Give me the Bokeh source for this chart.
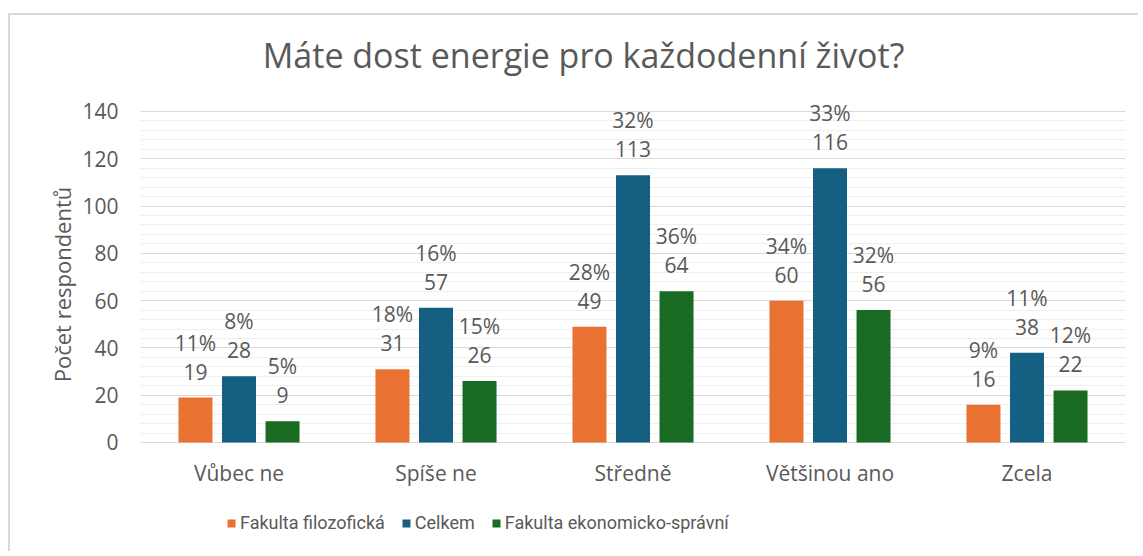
from bokeh.plotting import figure
from bokeh.models import ColumnDataSource, FactorRange, LabelSet, Label, Legend, LegendItem, FixedTicker, Range1d
from bokeh.transform import dodge
from bokeh.core.properties import value
from bokeh.embed import file_html
from bokeh.resources import INLINE

categories = ["Vůbec ne", "Spíše ne", "Středně", "Většinou ano", "Zcela"]
series_names = ["Fakulta filozofická", "Celkem", "Fakulta ekonomicko-správní"]
ff_values = [19, 31, 49, 60, 16]
ff_pct = ["11%", "18%", "28%", "34%", "9%"]
celkem_values = [28, 57, 113, 116, 38]
celkem_pct = ["8%", "16%", "32%", "33%", "11%"]
fes_values = [9, 26, 64, 56, 22]
fes_pct = ["5%", "15%", "36%", "32%", "12%"]
y_ticks = [0, 20, 40, 60, 80, 100, 120, 140]
title_text = "Máte dost energie pro každodenní život?"
y_label = "Počet respondentů"

colors = ["#E97132", "#156082", "#196B24"]
FONT = "Open Sans"
TXT = "#595959"

src = ColumnDataSource(dict(
    cat=categories,
    ff=ff_values, ffl=[str(v) for v in ff_values], ffp=ff_pct,
    ce=celkem_values, cel=[str(v) for v in celkem_values], cep=celkem_pct,
    fe=fes_values, fel=[str(v) for v in fes_values], fep=fes_pct,
))

p = figure(x_range=FactorRange(*categories, range_padding=0), y_range=Range1d(-46.95, 180.6),
           width=1130, height=538, output_backend="svg", toolbar_location=None,
           min_border_left=130, min_border_right=15, min_border_top=0, min_border_bottom=0)
p.outline_line_color = None
p.styles = {"margin-left": "8px", "margin-top": "13px",
            "border-left": "2px solid #d9d9d9", "border-top": "2px solid #d9d9d9"}

offsets = [-0.221, 0.0, 0.221]
keys = [("ff", "ffl", "ffp"), ("ce", "cel", "cep"), ("fe", "fel", "fep")]
renderers = []
for off, (k, kl, kp), c in zip(offsets, keys, colors):
    r = p.vbar(x=dodge("cat", off, range=p.x_range), top=k, width=0.1726, source=src,
               fill_color=c, line_color=None)
    renderers.append(r)
    for col, yo in ((kl, 18), (kp, 47)):
        p.add_layout(LabelSet(x=dodge("cat", off, range=p.x_range), y=k, text=col, source=src,
                              y_offset=yo, text_align="center", text_baseline="alphabetic",
                              text_font=value(FONT), text_font_size="21px", text_color=TXT))

# category labels under the baseline
p.text(x="cat", y=-12.7, text="cat", source=src, text_align="center", text_baseline="alphabetic",
       text_font=value(FONT), text_font_size="21px", text_color=TXT)

p.yaxis.ticker = FixedTicker(ticks=y_ticks, minor_ticks=list(range(0, 141, 4)))
p.yaxis.bounds = (0, 140)
p.ygrid.grid_line_color = "#d9d9d9"
p.ygrid.minor_grid_line_color = "#efefef"
p.xgrid.grid_line_color = None
p.xaxis.visible = False
p.yaxis.axis_line_color = None
p.yaxis.major_tick_line_color = None
p.yaxis.minor_tick_line_color = None
p.yaxis.major_label_text_font = FONT
p.yaxis.major_label_text_font_size = "21px"
p.yaxis.major_label_text_color = TXT
p.yaxis.major_label_standoff = 16
p.yaxis.axis_label = y_label
p.yaxis.axis_label_text_font = FONT
p.yaxis.axis_label_text_font_size = "22px"
p.yaxis.axis_label_text_font_style = "normal"
p.yaxis.axis_label_text_color = TXT
p.yaxis.axis_label_standoff = 2

p.add_layout(Label(x=2.249, y=163.9, text=title_text, text_align="center", text_baseline="alphabetic",
                   text_font=FONT, text_font_size="34px", text_color=TXT))

legend = Legend(items=[LegendItem(label=n, renderers=[r]) for n, r in zip(series_names, renderers)],
                orientation="horizontal", location=(86, 20), border_line_color=None,
                background_fill_alpha=0, label_text_font="Roboto", label_text_font_size="18px",
                label_text_color=TXT, glyph_width=10, glyph_height=10, spacing=16,
                label_standoff=4, padding=0, margin=0)
p.add_layout(legend, "center")

open("out.html", "w").write(file_html(p, INLINE))
